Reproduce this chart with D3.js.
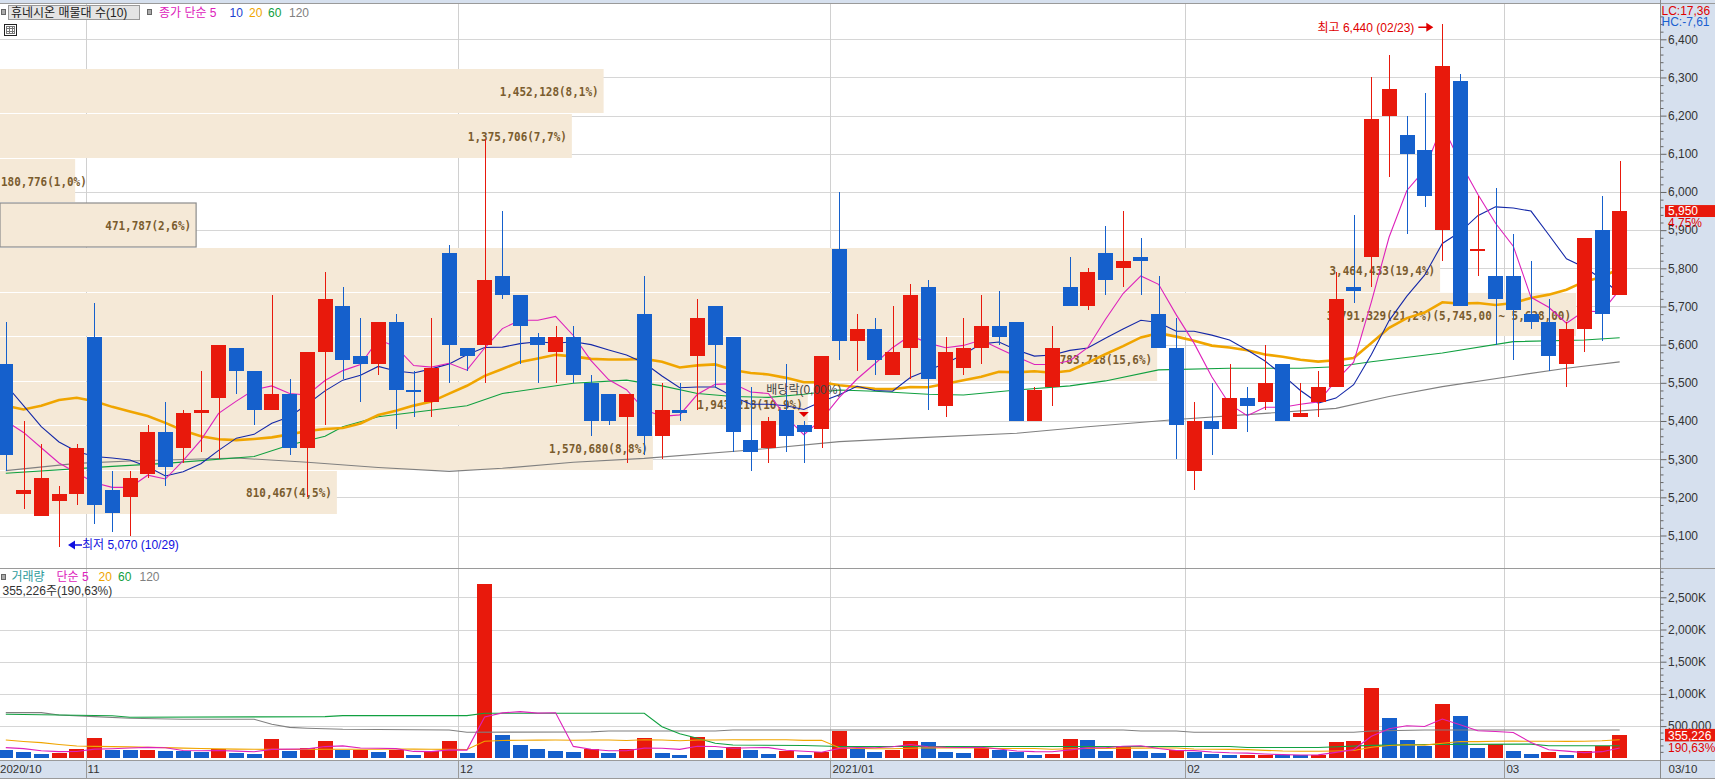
<!DOCTYPE html>
<html><head><meta charset="utf-8">
<script src="https://cdn.jsdelivr.net/npm/d3@7"></script>
<style>
html,body{margin:0;padding:0;background:#fff;overflow:hidden;}
svg{display:block;}
</style></head><body>
<svg id="chart" width="1715" height="779"></svg>
<script>
// ---------------- DATA ----------------
const dates = ["10/26","10/27","10/28","10/29","10/30",
"11/02","11/03","11/04","11/05","11/06","11/09","11/10","11/11","11/12","11/13","11/16","11/17","11/18","11/19","11/20","11/23","11/24","11/25","11/26","11/27","11/30",
"12/01","12/02","12/03","12/04","12/07","12/08","12/09","12/10","12/11","12/14","12/15","12/16","12/17","12/18","12/21","12/22","12/23","12/24","12/28","12/29","12/30",
"01/04","01/05","01/06","01/07","01/08","01/11","01/12","01/13","01/14","01/15","01/18","01/19","01/20","01/21","01/22","01/25","01/26","01/27","01/28","01/29",
"02/01","02/02","02/03","02/04","02/05","02/08","02/09","02/10","02/15","02/16","02/17","02/18","02/19","02/22","02/23","02/24","02/25","02/26",
"03/02","03/03","03/04","03/05","03/08","03/09","03/10"];

const open = [5550,5210,5150,5190,5210,5620,5220,5200,5260,5370,
5330,5420,5460,5590,5530,5430,5470,5330,5580,5700,
5570,5550,5660,5480,5450,5840,5590,5600,5780,5730,
5620,5580,5620,5500,5470,5410,5680,5360,5430,5570,
5700,5620,5350,5330,5430,5390,5380,5850,5610,5640,
5520,5590,5750,5440,5540,5590,5650,5660,5400,5490,
5750,5700,5840,5800,5830,5680,5590,5270,5400,5380,
5460,5450,5550,5410,5450,5490,5750,5830,6200,6150,
6110,5900,6290,5845,5780,5780,5680,5660,5550,5640,
5900,5730];
const high = [5660,5400,5340,5230,5340,5710,5270,5270,5390,5450,
5430,5530,5600,5590,5530,5730,5510,5580,5790,5750,
5670,5660,5680,5530,5670,5860,5590,6140,5950,5730,
5630,5650,5650,5520,5470,5470,5780,5500,5500,5720,
5700,5620,5490,5410,5550,5400,5570,6000,5680,5670,
5700,5760,5770,5620,5670,5730,5740,5660,5490,5650,
5830,5800,5910,5950,5880,5780,5670,5450,5500,5550,
5490,5600,5550,5500,5530,5790,5940,6300,6360,6200,
6260,6440,6310,5990,6010,5890,5820,5720,5660,5880,
5990,6080];
const low = [5270,5170,5150,5070,5180,5130,5110,5100,5250,5230,
5290,5320,5300,5470,5390,5430,5310,5200,5390,5510,
5450,5520,5380,5410,5410,5500,5530,5500,5720,5550,
5500,5500,5500,5360,5390,5290,5310,5300,5400,5430,
5490,5320,5270,5290,5320,5290,5330,5560,5530,5520,
5520,5510,5430,5410,5520,5550,5600,5400,5400,5440,
5700,5690,5730,5750,5730,5590,5300,5220,5310,5380,
5370,5430,5400,5410,5410,5490,5710,5750,6040,5890,
5960,5820,5700,5780,5600,5560,5640,5530,5490,5580,
5610,5730];
const close = [5310,5220,5250,5210,5330,5180,5160,5250,5370,5280,
5420,5430,5600,5530,5430,5470,5330,5580,5720,5560,
5550,5660,5480,5476,5540,5600,5570,5770,5730,5650,
5600,5620,5520,5400,5400,5470,5360,5430,5420,5670,
5600,5370,5320,5400,5360,5370,5570,5610,5640,5560,
5580,5730,5510,5580,5590,5650,5620,5400,5480,5590,
5700,5790,5770,5820,5820,5590,5390,5400,5380,5460,
5440,5500,5400,5420,5490,5720,5740,6190,6270,6100,
5990,6330,5700,5850,5720,5690,5660,5570,5640,5880,
5680,5950];
const volume = [129000,98000,67000,88000,145000,315000,129000,125000,132000,117000,
108000,103000,140000,88000,67000,295000,119000,160000,269000,125000,
130000,98000,130000,51000,108000,264000,82000,2709000,362000,207000,
145000,113000,98000,145000,88000,145000,315000,88000,57000,331000,
129000,171000,129000,72000,119000,57000,98000,424000,145000,98000,
134000,270000,255000,98000,82000,155000,129000,98000,57000,72000,
300000,282000,113000,171000,113000,82000,129000,98000,70000,50000,
55000,58000,52000,45000,55000,253000,269000,1092000,626000,285000,
197000,844000,657000,160000,228000,113000,67000,98000,51000,113000,
186000,355226];

const ma5Head  = [5400,5370,5330,5290];
const ma10Head = [5495,5440,5385,5345,5320,5307,5303,5298,5280];
const ma20Head = [5440,5430,5440,5455,5461,5452,5437,5425,5413,5395,5375,5360,5352,5350,5353,5357,5365,5374,5379];
// long averages (candle index, value)
const ma60Idx  = [0,6,9,14,16,18,19,21,26,28,32,35,37,39,41,43,45,47,49,52,54,57,60,62,65,69,73,75,77,81,85,89,91];
const ma60Val  = [5263,5281,5289,5307,5337,5360,5385,5411,5440,5472,5499,5507,5492,5472,5464,5462,5470,5481,5478,5470,5468,5481,5492,5505,5534,5538,5538,5542,5555,5578,5608,5612,5618];
const ma120Idx = [0,4,7,13,17,21,25,28,32,36,42,47,51,57,61,66,71,75,78,81,85,88,91];
const ma120Val = [5270,5289,5295,5303,5292,5278,5268,5276,5292,5302,5324,5346,5355,5368,5385,5404,5420,5433,5464,5490,5518,5538,5555];

const vma5Head  = [165000,150000,118000,103000];
const vma20Head = [284000,262000,243000,215000,191000,185000,181000,178000,172000,165000,158000,152000,147000,143000,140000,138000,137000,138000,140000];
const vma60Idx  = [0,6,7,18,19,26,27,36,37,38,39,40,41,45,47,69,70,74,77,80,86,87,91];
const vma60Val  = [684000,660000,637000,647000,663000,663000,699000,699000,491000,380000,311000,233000,207000,198000,183000,183000,167000,167000,200000,215000,220000,195000,195000];
const vma120Idx = [0,2,3,5,7,10,14,15,16,17,19,25,26,33,34,40,41,63,64,66,67,76,77,80,91];
const vma120Val = [709000,709000,673000,647000,621000,606000,606000,530000,480000,466000,450000,440000,404000,411000,424000,424000,440000,440000,424000,424000,404000,404000,424000,440000,440000];

// volume profile (매물대) bins
const bandLow  = [5155,5270,5387,5503,5619,5736,5854,5970,6087,6205];
const bandHigh = [5270,5387,5503,5619,5736,5854,5970,6087,6205,6322];
const bandVol  = [810467,1570680,1943218,2783718,3791329,3464433,471787,180776,1375706,1452128];
const bandPct  = ["4,5","8,8","10,9","15,6","21,2","19,4","2,6","1,0","7,7","8,1"];
const maxBandRangeText = "(5,745,00 ~ 5,628,00)";
const currentBand = 6;

const priceTicks = d3.range(5100, 6401, 100);
const volTicks = [500000,1000000,1500000,2000000,2500000];
const volTickLabels = ["500,000","1,000K","1,500K","2,000K","2,500K"];
const monthTicks  = ["10/26","11/02","12/01","01/04","02/01","03/02"];
const monthLabels = ["2020/10","11","12","2021/01","02","03"];
const lastDateLabel = "03/10";

const title = "휴네시온 매물대 수(10)";
const priceLegend = [["종가 단순 5","#dd22bb"],["10","#1a3fd0"],["20","#f0a500"],["60","#10a040"],["120","#808080"]];
const volLegend = [["거래량","#2e9b9b"],["단순 5","#dd22bb"],["20","#f0a500"],["60","#10a040"],["120","#808080"]];
const lastPrice = 5950, lastChange = "4,75%";
const lastVolText = "355,226", volRatio = "190,63%";
const volInfo = "355,226주(190,63%)";
const lcText = "LC:17,36", hcText = "HC:-7,61";
const hiText = "최고 6,440 (02/23)", hiDate = "02/23", hiPrice = 6440;
const loText = "최저 5,070 (10/29)", loDate = "10/29", loPrice = 5070;
const exDivText = "배당락(0,00%)", exDivDate = "12/29";

// ---------------- LAYOUT ----------------
const W = 1715, H = 779;
const axisX = 1660.5, topY = 3.5, sepY = 568.5, stripTop = 760;
const RED = "#e8190c", BLUE = "#1560cc";
const SANS = "'Liberation Sans','Noto Sans CJK KR',sans-serif";
const MONO = "'DejaVu Sans Mono','Liberation Mono',monospace";

const svg = d3.select("#chart");
const x = d3.scaleBand().domain(dates).range([-3.07, 1628.55]).paddingInner(0);
const xc = d => x(d) + x.bandwidth() / 2;
const bodyW = x.bandwidth() * 0.83;
const y = d3.scaleLinear().domain([5100, 6400]).range([535.5, 39.3]);
const yv = d3.scaleLinear().domain([0, 2500000]).range([758.3, 597.3]);
const bx = d3.scaleLinear().domain([0, d3.max(bandVol)]).range([0, 1576]);

const defs = svg.append("defs");
defs.append("clipPath").attr("id","cp").append("rect").attr("x",0).attr("y",topY+0.5).attr("width",axisX).attr("height",sepY-topY-0.5);
defs.append("clipPath").attr("id","cv").append("rect").attr("x",0).attr("y",sepY+0.5).attr("width",axisX).attr("height",stripTop-sepY-0.5);

// backgrounds
svg.append("rect").attr("width",W).attr("height",H).attr("fill","#fff");
svg.append("rect").attr("x",axisX).attr("y",0).attr("width",W-axisX).attr("height",H).attr("fill","#d6e0ee");
svg.append("rect").attr("x",0).attr("y",stripTop).attr("width",W).attr("height",H-stripTop).attr("fill","#d6e0ee");
svg.append("rect").attr("x",0).attr("y",0).attr("width",W).attr("height",topY).attr("fill","#d6e0ee");

const gp = svg.append("g").attr("clip-path","url(#cp)");
const gv = svg.append("g").attr("clip-path","url(#cv)");

// grid
gp.selectAll("line.hg").data(priceTicks).join("line")
  .attr("x1",0).attr("x2",axisX).attr("y1",d=>Math.round(y(d))+0.5).attr("y2",d=>Math.round(y(d))+0.5)
  .attr("stroke","#d6d6d6");
gv.selectAll("line.hg").data(volTicks).join("line")
  .attr("x1",0).attr("x2",axisX).attr("y1",d=>Math.round(yv(d))+0.5).attr("y2",d=>Math.round(yv(d))+0.5)
  .attr("stroke","#d6d6d6");
[gp, gv].forEach(g => g.selectAll("line.vg").data(monthTicks.slice(1)).join("line")
  .attr("x1",d=>Math.round(x(d))+0.5).attr("x2",d=>Math.round(x(d))+0.5).attr("y1",0).attr("y2",H)
  .attr("stroke","#d0d0d0"));

// volume profile bands
const bands = gp.append("g");
bands.selectAll("rect").data(d3.range(bandVol.length)).join("rect")
  .attr("x",0).attr("y",i=>Math.round(y(bandHigh[i])))
  .attr("width",i=>bx(bandVol[i]))
  .attr("height",i=>Math.round(y(bandLow[i]))-Math.round(y(bandHigh[i]))-1)
  .attr("fill","#f5e9d7")
  .attr("stroke",i=>i===currentBand?"#8c8c8c":"none")
  .attr("stroke-width",1.2);
const maxIdx = bandVol.indexOf(d3.max(bandVol));
bands.selectAll("text").data(d3.range(bandVol.length)).join("text")
  .attr("y",i=>(y(bandHigh[i])+y(bandLow[i]))/2)
  .attr("dy","0.37em")
  .attr("font-family",MONO).attr("font-size",13).attr("font-weight","bold").attr("fill","#7a5c2e")
  .attr("lengthAdjust","spacingAndGlyphs")
  .text(i=>d3.format(",")(bandVol[i])+"("+bandPct[i]+"%)"+(i===maxIdx?maxBandRangeText:""))
  .each(function(i){
    const s = d3.select(this), w = s.text().length * 6.6, bw = bx(bandVol[i]);
    s.attr("textLength", w);
    if (w + 8 > bw) s.attr("x",1).attr("text-anchor","start");
    else s.attr("x",bw-5-w).attr("text-anchor","start");
  });

// moving averages
function sma(arr, n, head){ return arr.map((v,i)=> i < n-1 ? head[i] : d3.mean(arr.slice(i-n+1,i+1))); }
const idx = d3.range(dates.length);
const ma5 = sma(close,5,ma5Head), ma10 = sma(close,10,ma10Head), ma20 = sma(close,20,ma20Head);
const lineP = d3.line().x(d=>xc(dates[d[0]])).y(d=>y(d[1]));
const pm = gp.append("g").attr("fill","none");
pm.append("path").attr("d",lineP(ma120Idx.map((k,j)=>[k,ma120Val[j]]))).attr("stroke","#808080").attr("stroke-width",1.1);
pm.append("path").attr("d",lineP(ma60Idx.map((k,j)=>[k,ma60Val[j]]))).attr("stroke","#10a040").attr("stroke-width",1.1);
pm.append("path").attr("d",lineP(idx.map(i=>[i,ma20[i]]))).attr("stroke","#f0a500").attr("stroke-width",2.6);
pm.append("path").attr("d",lineP(idx.map(i=>[i,ma10[i]]))).attr("stroke","#1428a8").attr("stroke-width",1.1);
pm.append("path").attr("d",lineP(idx.map(i=>[i,ma5[i]]))).attr("stroke","#dd22bb").attr("stroke-width",1.1);

// candles
const cg = gp.append("g").attr("shape-rendering","crispEdges");
const col = i => close[i] > open[i] ? RED : BLUE;
cg.selectAll("line").data(idx).join("line")
  .attr("x1",i=>Math.round(xc(dates[i]))+0.5).attr("x2",i=>Math.round(xc(dates[i]))+0.5)
  .attr("y1",i=>y(high[i])).attr("y2",i=>y(low[i])).attr("stroke",col);
cg.selectAll("rect").data(idx).join("rect")
  .attr("x",i=>Math.round(xc(dates[i])-bodyW/2)).attr("width",Math.round(bodyW))
  .attr("y",i=>y(Math.max(open[i],close[i])))
  .attr("height",i=>Math.max(1.5, Math.abs(y(open[i])-y(close[i]))))
  .attr("fill",col);

// annotations in price panel
const ann = gp.append("g").attr("font-family",SANS).attr("font-size",12);
{ // highest
  const tipX = xc(hiDate) - 9, yy = y(hiPrice) + 3.3;
  ann.append("line").attr("x1",tipX-15).attr("x2",tipX-6).attr("y1",yy).attr("y2",yy).attr("stroke","#e00000").attr("stroke-width",1.5);
  ann.append("path").attr("d",`M${tipX-7},${yy-4.5}L${tipX},${yy}L${tipX-7},${yy+4.5}Z`).attr("fill","#e00000");
  ann.append("text").attr("x",tipX-19).attr("y",yy).attr("dy","0.36em").attr("text-anchor","end").attr("fill","#e00000").text(hiText);
}
{ // lowest
  const tipX = xc(loDate) + 9, yy = y(loPrice) - 2;
  ann.append("path").attr("d",`M${tipX+7},${yy-4.5}L${tipX},${yy}L${tipX+7},${yy+4.5}Z`).attr("fill","#1010e0");
  ann.append("line").attr("x1",tipX+6).attr("x2",tipX+14).attr("y1",yy).attr("y2",yy).attr("stroke","#1010e0").attr("stroke-width",1.5);
  ann.append("text").attr("x",tipX+14).attr("y",yy).attr("dy","0.36em").attr("fill","#1010e0").text(loText);
}
{ // ex-dividend
  const cx = xc(exDivDate), hy = y(high[dates.indexOf(exDivDate)]);
  ann.append("path").attr("d",`M${cx-5},${hy-9}L${cx+5},${hy-9}L${cx},${hy-4}Z`).attr("fill","#e00000");
  ann.append("text").attr("x",cx).attr("y",hy-31).attr("dy","0.36em").attr("text-anchor","middle").attr("fill","#444").text(exDivText);
}

// volume bars
const vcol = i => (i > 0 && volume[i] > volume[i-1]) ? RED : BLUE;
gv.append("g").attr("shape-rendering","crispEdges").selectAll("rect").data(idx).join("rect")
  .attr("x",i=>Math.round(xc(dates[i])-bodyW/2)).attr("width",Math.round(bodyW))
  .attr("y",i=>yv(volume[i])).attr("height",i=>yv(0)-yv(volume[i])).attr("fill",vcol);
const vma5 = sma(volume,5,vma5Head), vma20 = sma(volume,20,vma20Head);
const lineV = d3.line().x(d=>xc(dates[d[0]])).y(d=>yv(d[1]));
const vm = gv.append("g").attr("fill","none").attr("stroke-width",1.1);
vm.append("path").attr("d",lineV(vma120Idx.map((k,j)=>[k,vma120Val[j]]))).attr("stroke","#808080");
vm.append("path").attr("d",lineV(vma60Idx.map((k,j)=>[k,vma60Val[j]]))).attr("stroke","#10a040");
vm.append("path").attr("d",lineV(idx.map(i=>[i,vma20[i]]))).attr("stroke","#f0a500");
vm.append("path").attr("d",lineV(idx.map(i=>[i,vma5[i]]))).attr("stroke","#dd22bb");

// frame lines
const fr = svg.append("g").attr("shape-rendering","crispEdges");
fr.append("line").attr("x1",0).attr("x2",W).attr("y1",topY).attr("y2",topY).attr("stroke","#9a9a9a");
fr.append("line").attr("x1",0).attr("x2",W).attr("y1",sepY).attr("y2",sepY).attr("stroke","#9a9a9a");
fr.append("line").attr("x1",0).attr("x2",W).attr("y1",stripTop+0.5).attr("y2",stripTop+0.5).attr("stroke","#9a9a9a");
fr.append("line").attr("x1",0).attr("x2",W).attr("y1",H-0.5).attr("y2",H-0.5).attr("stroke","#9a9a9a");
fr.append("line").attr("x1",axisX).attr("x2",axisX).attr("y1",0).attr("y2",H).attr("stroke","#8a8a8a");
fr.selectAll("line.mt").data(monthTicks.slice(1)).join("line")
  .attr("x1",d=>Math.round(x(d))+0.5).attr("x2",d=>Math.round(x(d))+0.5).attr("y1",stripTop).attr("y2",H)
  .attr("stroke","#9a9a9a");

// x labels
const xl = svg.append("g").attr("font-family",SANS).attr("font-size",11.5).attr("fill","#333");
xl.selectAll("text").data(monthTicks).join("text")
  .attr("x",d=>Math.max(x(d),-2)+2).attr("y",769).attr("dy","0.36em")
  .text((d,i)=>monthLabels[i]);
xl.append("text").attr("x",axisX+8).attr("y",769).attr("dy","0.36em").text(lastDateLabel);

// right axes
function styleAxis(g){
  g.select(".domain").remove();
  g.attr("font-family",SANS).attr("font-size",12);
  g.selectAll("line").attr("stroke","#666");
  g.selectAll("text").attr("fill","#333");
}
svg.append("g").attr("transform",`translate(${axisX},0)`)
  .call(d3.axisRight(y).tickValues(d3.range(5040,6461,20).filter(v=>v%100!==0)).tickSize(3).tickFormat(""))
  .call(styleAxis);
svg.append("g").attr("transform",`translate(${axisX},0)`)
  .call(d3.axisRight(y).tickValues(priceTicks).tickSize(6).tickPadding(1.5).tickFormat(d3.format(",")))
  .call(styleAxis);
svg.append("g").attr("transform",`translate(${axisX},0)`)
  .call(d3.axisRight(yv).tickValues(d3.range(100000,2900001,100000).filter(v=>v%500000!==0)).tickSize(3).tickFormat(""))
  .call(styleAxis);
svg.append("g").attr("transform",`translate(${axisX},0)`)
  .call(d3.axisRight(yv).tickValues(volTicks).tickSize(6).tickPadding(1.5).tickFormat((d,i)=>volTickLabels[i]))
  .call(styleAxis);

// right side info
const ri = svg.append("g").attr("font-family",SANS).attr("font-size",12);
ri.append("text").attr("x",axisX+1).attr("y",11).attr("dy","0.36em").attr("fill","#e00000").text(lcText);
ri.append("text").attr("x",axisX+1).attr("y",22).attr("dy","0.36em").attr("fill","#1a5fd0").text(hcText);
{
  const yy = y(lastPrice);
  ri.append("rect").attr("x",axisX+4.5).attr("y",yy-6).attr("width",W-axisX-4.5).attr("height",12).attr("fill","#e8190c");
  ri.append("text").attr("x",axisX+7.5).attr("y",yy).attr("dy","0.36em").attr("fill","#fff").text(d3.format(",")(lastPrice));
  ri.append("rect").attr("x",axisX+4.5).attr("y",yy+6).attr("width",W-axisX-4.5).attr("height",6).attr("fill","#d6e0ee");
  ri.append("text").attr("x",axisX+7.5).attr("y",yy+11.5).attr("dy","0.36em").attr("fill","#e00000").text(lastChange);
  const yv0 = yv(volume[volume.length-1]);
  ri.append("rect").attr("x",axisX+4.5).attr("y",yv0-6.5).attr("width",W-axisX-4.5).attr("height",12.5).attr("fill","#e8190c");
  ri.append("text").attr("x",axisX+7.5).attr("y",yv0).attr("dy","0.36em").attr("fill","#fff").text(lastVolText);
  ri.append("text").attr("x",axisX+7.5).attr("y",yv0+12).attr("dy","0.36em").attr("fill","#e00000").text(volRatio);
}

// legends
const lg = svg.append("g").attr("font-family",SANS).attr("font-size",12);
lg.append("rect").attr("x",1.5).attr("y",9.5).attr("width",4).attr("height",5).attr("fill","#aaa").attr("stroke","#666");
lg.append("rect").attr("x",8.5).attr("y",5.5).attr("width",131).attr("height",14).attr("fill","#e4e4e4").attr("stroke","#999");
lg.append("text").attr("x",11).attr("y",12.5).attr("dy","0.36em").attr("fill","#222").text(title);
lg.append("rect").attr("x",147.5).attr("y",9.5).attr("width",4).attr("height",5).attr("fill","#aaa").attr("stroke","#666");
const pLegX = [159,229.5,249,268,289];
priceLegend.forEach((d,i)=>lg.append("text").attr("x",pLegX[i]).attr("y",12.5).attr("dy","0.36em").attr("fill",d[1]).text(d[0]));
// grid icon
const gi = lg.append("g").attr("shape-rendering","crispEdges");
gi.append("rect").attr("x",4.5).attr("y",24.5).attr("width",12).attr("height",11).attr("fill","#fff").attr("stroke","#222");
gi.append("rect").attr("x",6.5).attr("y",26.5).attr("width",8).attr("height",7).attr("fill","none").attr("stroke","#777");
[9.5,12.5].forEach(v=>gi.append("line").attr("x1",v).attr("x2",v).attr("y1",26.5).attr("y2",33.5).attr("stroke","#777"));
[28.5,31.5].forEach(v=>gi.append("line").attr("x1",6.5).attr("x2",14.5).attr("y1",v).attr("y2",v).attr("stroke","#777"));

lg.append("rect").attr("x",1.5).attr("y",574.5).attr("width",4).attr("height",5).attr("fill","#aaa").attr("stroke","#666");
const vLegX = [11.5,56.5,98.5,118,139.5];
volLegend.forEach((d,i)=>lg.append("text").attr("x",vLegX[i]).attr("y",577).attr("dy","0.36em").attr("fill",d[1]).text(d[0]));
lg.append("text").attr("x",2.5).attr("y",591).attr("dy","0.36em").attr("fill","#333").text(volInfo);
</script>
</body></html>
